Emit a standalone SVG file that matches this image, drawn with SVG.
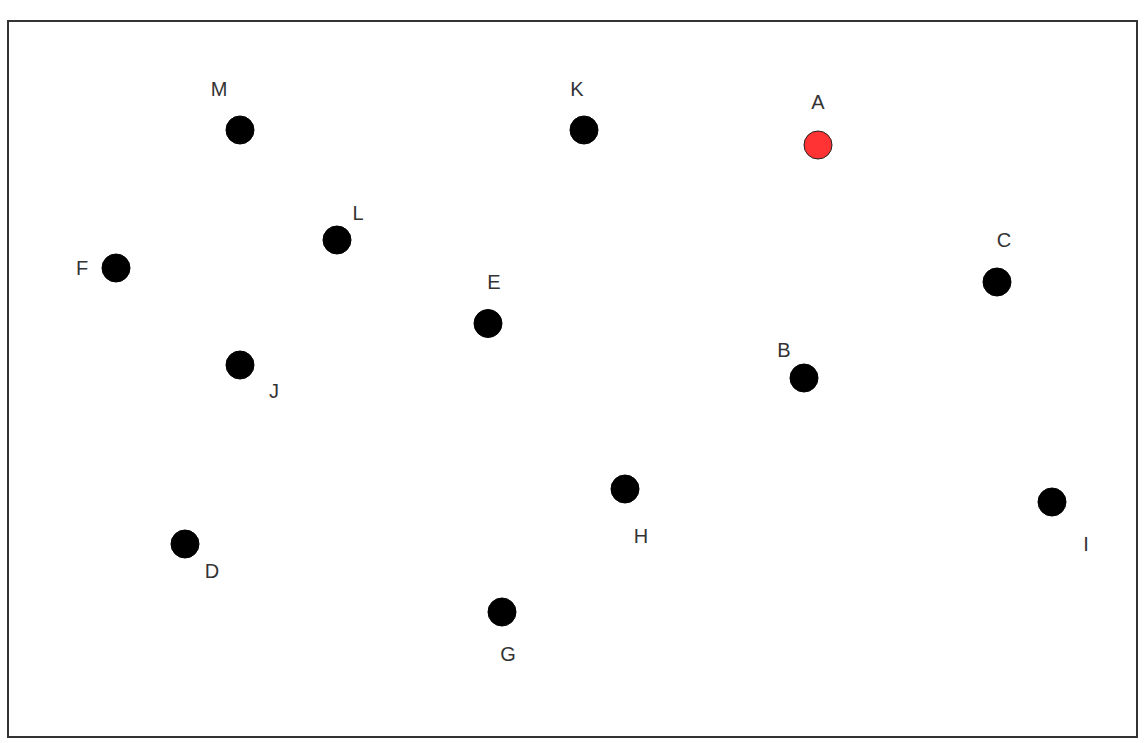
<svg xmlns="http://www.w3.org/2000/svg" width="1147" height="743" viewBox="0 0 1147 743">
<style>
.n{fill:#000;stroke:#000;stroke-width:1}
.a{fill:#f33;stroke:#222;stroke-width:1}
.t{font-family:"Liberation Sans",Arial,sans-serif;font-size:20px;fill:#333;text-anchor:middle;dominant-baseline:central}
</style>
<rect x="0" y="0" width="1147" height="743" fill="#fff"/>
<rect x="8" y="21" width="1129" height="716" fill="#fff" stroke="#333" stroke-width="2"/>
<g id="connectors"></g>
<g id="node-M"><circle class="n" cx="240" cy="130" r="14"/><text class="t" x="219" y="89">M</text></g>
<g id="node-K"><circle class="n" cx="584" cy="130" r="14"/><text class="t" x="577" y="89">K</text></g>
<g id="node-A"><circle class="a" cx="818" cy="145" r="14"/><text class="t" x="818" y="102">A</text></g>
<g id="node-L"><circle class="n" cx="337" cy="240" r="14"/><text class="t" x="358" y="213">L</text></g>
<g id="node-F"><circle class="n" cx="116" cy="268" r="14"/><text class="t" x="82" y="268">F</text></g>
<g id="node-C"><circle class="n" cx="997" cy="282" r="14"/><text class="t" x="1004" y="240">C</text></g>
<g id="node-E"><circle class="n" cx="488" cy="323.5" r="14"/><text class="t" x="494" y="282">E</text></g>
<g id="node-B"><circle class="n" cx="804" cy="378" r="14"/><text class="t" x="784" y="350">B</text></g>
<g id="node-J"><circle class="n" cx="240" cy="365" r="14"/><text class="t" x="274" y="391">J</text></g>
<g id="node-H"><circle class="n" cx="625" cy="489" r="14"/><text class="t" x="641" y="536">H</text></g>
<g id="node-I"><circle class="n" cx="1052" cy="502" r="14"/><text class="t" x="1086" y="544">I</text></g>
<g id="node-D"><circle class="n" cx="185" cy="544" r="14"/><text class="t" x="212" y="571">D</text></g>
<g id="node-G"><circle class="n" cx="502" cy="612" r="14"/><text class="t" x="508" y="654">G</text></g>
</svg>
